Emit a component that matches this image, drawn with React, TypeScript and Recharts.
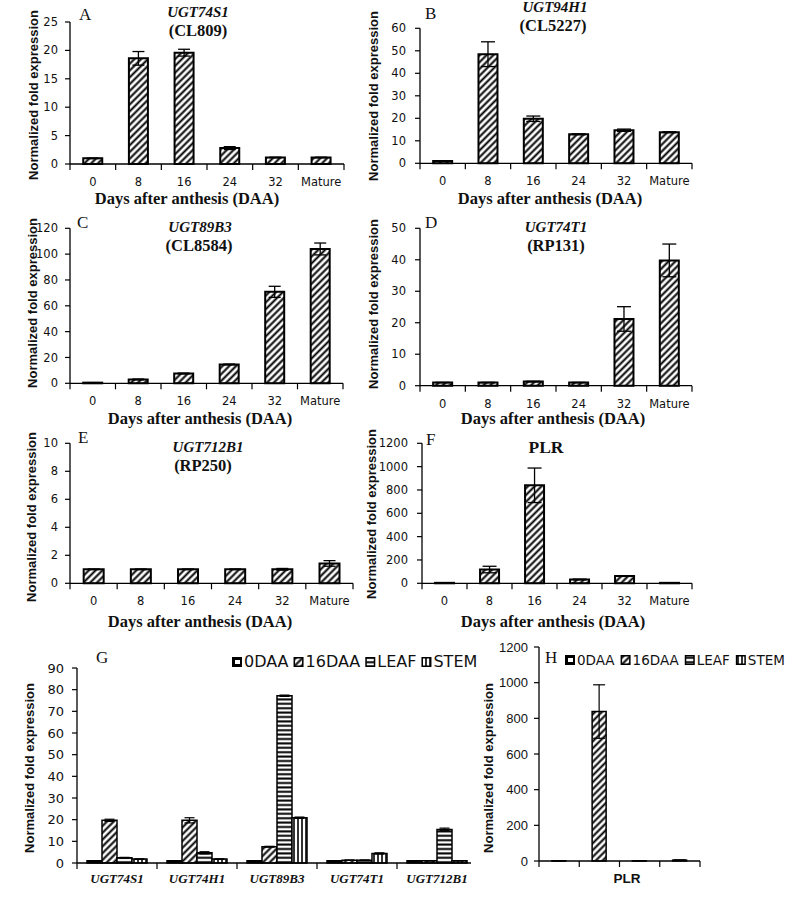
import React from 'react';
import { BarChart, Bar, XAxis, YAxis, ErrorBar, Cell } from 'recharts';

// ---------------- data ----------------
const daaCategories = ['0', '8', '16', '24', '32', 'Mature'];

const ugt74s1Values = [1.0, 18.6, 19.6, 2.8, 1.15, 1.15];
const ugt74s1Errors = [0.05, 1.2, 0.6, 0.25, 0.05, 0.05];
const ugt94h1Values = [1.0, 48.5, 19.8, 12.9, 14.7, 13.8];
const ugt94h1Errors = [0.1, 5.5, 1.2, 0.2, 0.5, 0.2];
const ugt89b3Values = [0.5, 3.0, 7.6, 14.6, 70.8, 104.0];
const ugt89b3Errors = [0.05, 0.3, 0.3, 0.3, 4.3, 4.6];
const ugt74t1Values = [1.0, 1.0, 1.3, 1.0, 21.2, 39.8];
const ugt74t1Errors = [0.05, 0.05, 0.1, 0.05, 3.9, 5.2];
const ugt712b1Values = [1.0, 1.0, 1.0, 1.0, 1.0, 1.42];
const ugt712b1Errors = [0.02, 0.02, 0.02, 0.02, 0.06, 0.2];
const plrValues = [4, 118, 840, 33, 62, 4];
const plrErrors = [1, 28, 148, 3, 3, 1];

const ticksA = [0, 5, 10, 15, 20, 25];
const ticksB = [0, 10, 20, 30, 40, 50, 60];
const ticksC = [0, 20, 40, 60, 80, 100, 120];
const ticksD = [0, 10, 20, 30, 40, 50];
const ticksE = [0, 2, 4, 6, 8, 10];
const ticksF = [0, 200, 400, 600, 800, 1000, 1200];
const ticksG = [0, 10, 20, 30, 40, 50, 60, 70, 80, 90];
const ticksH = [0, 200, 400, 600, 800, 1000, 1200];

const tissueGenes = ['UGT74S1', 'UGT74H1', 'UGT89B3', 'UGT74T1', 'UGT712B1'];
const tissueSeries = ['0DAA', '16DAA', 'LEAF', 'STEM'];
const tissue0DAA = [1, 1, 1, 1, 1];
const tissue16DAA = [19.7, 19.7, 7.5, 1.3, 1.0];
const tissueLeaf = [2.4, 4.7, 77.2, 1.3, 15.5];
const tissueStem = [1.8, 1.8, 20.9, 4.4, 1.0];
const tissue16DAAErr = [0.5, 1.2, 0.2, 0.05, 0.05];
const tissueLeafErr = [0.2, 0.5, 0.3, 0.05, 0.6];
const tissueStemErr = [0.1, 0.1, 0.3, 0.3, 0.05];

const plrTissueValues = [1, 838, 1, 5];
const plrTissueErrors = [0.2, 150, 0.2, 1];

const panelLetters = ['A', 'B', 'C', 'D', 'E', 'F', 'G', 'H'];
const geneNames = ['UGT74S1', 'UGT94H1', 'UGT89B3', 'UGT74T1', 'UGT712B1'];
const cloneIds = ['(CL809)', '(CL5227)', '(CL8584)', '(RP131)', '(RP250)'];
const plrLabel = 'PLR';
const yTitle = 'Normalized fold expression';
const xTitle = 'Days after anthesis (DAA)';

// ---------------- styles ----------------
const SERIF = '"Liberation Serif", "Times New Roman", serif';
const SANS = '"Liberation Sans", Arial, sans-serif';
const DEJAVU = '"DejaVu Sans", Verdana, sans-serif';
const XH = 30;
const patternIds = ['url(#pSolid)', 'url(#pDiag)', 'url(#pHoriz)', 'url(#pVert)'];

type Box = { x: number; y: number; w: number; h: number };
type Plot = { l: number; t: number; r: number; b: number };

function layoutOf(box: Box, plot: Plot) {
  return {
    yw: plot.l - box.x,
    margin: {
      top: plot.t - box.y,
      right: box.x + box.w - plot.r,
      bottom: box.y + box.h - plot.b - XH,
      left: 0,
    },
  };
}

function measure(text: string, font: string, fallbackPerChar: number) {
  try {
    const c = document.createElement('canvas').getContext('2d');
    if (c) {
      c.font = font;
      return c.measureText(text).width;
    }
  } catch (e) {
    /* ignore */
  }
  return text.length * fallbackPerChar;
}

function BoundaryTick(props: any) {
  const { x, y, payload, index, bw, count, showLabel, labelDy, font } = props;
  return (
    <g>
      <line x1={x - bw / 2} y1={y} x2={x - bw / 2} y2={y + 6} stroke="#000" strokeWidth={1.2} />
      {index === count - 1 && (
        <line x1={x + bw / 2} y1={y} x2={x + bw / 2} y2={y + 6} stroke="#000" strokeWidth={1.2} />
      )}
      {showLabel && (
        <text x={x} y={y + labelDy} textAnchor="middle" fill="#111" {...font}>
          {payload.value}
        </text>
      )}
    </g>
  );
}

type TCProps = {
  box: Box;
  plot: Plot;
  values: number[];
  errors: number[];
  ticks: number[];
  tickMargin: number;
  errW: number;
};

function TimeCoursePanel({ box, plot, values, errors, ticks, tickMargin, errW }: TCProps) {
  const { yw, margin } = layoutOf(box, plot);
  const data = daaCategories.map((c, i) => ({ cat: c, v: values[i], e: errors[i] }));
  const bw = (plot.r - plot.l) / daaCategories.length;
  return (
    <div style={{ position: 'absolute', left: box.x, top: box.y }}>
      <BarChart width={box.w} height={box.h} data={data} margin={margin} barCategoryGap="29%">
        <XAxis
          dataKey="cat"
          height={XH}
          interval={0}
          tickSize={0}
          tickMargin={0}
          tickLine={false}
          axisLine={{ stroke: '#000', strokeWidth: 1.3 }}
          tick={(p: any) => (
            <BoundaryTick
              {...p}
              bw={bw}
              count={daaCategories.length}
              showLabel
              labelDy={22}
              font={{ fontFamily: DEJAVU, fontSize: 11.5 }}
            />
          )}
        />
        <YAxis
          type="number"
          width={yw}
          domain={[0, ticks[ticks.length - 1]]}
          ticks={ticks}
          interval={0}
          tickSize={5}
          tickMargin={tickMargin}
          axisLine={{ stroke: '#000', strokeWidth: 1.3 }}
          tickLine={{ stroke: '#000', strokeWidth: 1.2 }}
          tick={{ fill: '#111', fontFamily: DEJAVU, fontSize: 11.5 }}
        />
        <Bar dataKey="v" fill="url(#pDiag)" stroke="#000" strokeWidth={2} isAnimationActive={false}>
          <ErrorBar dataKey="e" width={errW} stroke="#000" strokeWidth={1.3} direction="y" />
        </Bar>
      </BarChart>
    </div>
  );
}

function TissuePanel() {
  const box = { x: 0, y: 640, w: 490, h: 280 };
  const plot = { l: 77, t: 668, r: 477, b: 863 };
  const { yw, margin } = layoutOf(box, plot);
  const data = tissueGenes.map((g, i) => ({
    gene: g,
    s0: tissue0DAA[i],
    s1: tissue16DAA[i],
    s2: tissueLeaf[i],
    s3: tissueStem[i],
    e1: tissue16DAAErr[i],
    e2: tissueLeafErr[i],
    e3: tissueStemErr[i],
  }));
  const bw = (plot.r - plot.l) / tissueGenes.length;
  return (
    <div style={{ position: 'absolute', left: box.x, top: box.y, width: 471, height: box.h, overflow: 'hidden' }}>
      <BarChart width={box.w} height={box.h} data={data} margin={margin} barCategoryGap="12.5%" barGap={0}>
        <XAxis
          dataKey="gene"
          height={XH}
          interval={0}
          tickSize={0}
          tickMargin={0}
          tickLine={false}
          axisLine={{ stroke: '#000', strokeWidth: 1.3 }}
          tick={(p: any) => (
            <BoundaryTick
              {...p}
              bw={bw}
              count={tissueGenes.length}
              showLabel
              labelDy={20}
              font={{ fontFamily: SERIF, fontSize: 13, fontWeight: 700, fontStyle: 'italic' }}
            />
          )}
        />
        <YAxis
          type="number"
          width={yw}
          domain={[0, 90]}
          ticks={ticksG}
          interval={0}
          tickSize={5}
          tickMargin={8}
          axisLine={{ stroke: '#000', strokeWidth: 1.3 }}
          tickLine={{ stroke: '#000', strokeWidth: 1.2 }}
          tick={{ fill: '#111', fontFamily: DEJAVU, fontSize: 13 }}
        />
        <Bar dataKey="s0" fill={patternIds[0]} stroke="#000" strokeWidth={1.5} isAnimationActive={false} />
        <Bar dataKey="s1" fill={patternIds[1]} stroke="#000" strokeWidth={1.5} isAnimationActive={false}>
          <ErrorBar dataKey="e1" width={5} stroke="#000" strokeWidth={1.2} direction="y" />
        </Bar>
        <Bar dataKey="s2" fill={patternIds[2]} stroke="#000" strokeWidth={1.5} isAnimationActive={false}>
          <ErrorBar dataKey="e2" width={5} stroke="#000" strokeWidth={1.2} direction="y" />
        </Bar>
        <Bar dataKey="s3" fill={patternIds[3]} stroke="#000" strokeWidth={1.5} isAnimationActive={false}>
          <ErrorBar dataKey="e3" width={5} stroke="#000" strokeWidth={1.2} direction="y" />
        </Bar>
      </BarChart>
    </div>
  );
}

function PlrTissuePanel() {
  const box = { x: 460, y: 640, w: 340, h: 280 };
  const plot = { l: 539, t: 647, r: 700, b: 861 };
  const { yw, margin } = layoutOf(box, plot);
  const data = tissueSeries.map((s, i) => ({ tissue: s, v: plrTissueValues[i], e: plrTissueErrors[i] }));
  const bw = (plot.r - plot.l) / tissueSeries.length;
  return (
    <div style={{ position: 'absolute', left: box.x, top: box.y }}>
      <BarChart width={box.w} height={box.h} data={data} margin={margin} barCategoryGap="32%">
        <XAxis
          dataKey="tissue"
          height={XH}
          interval={0}
          tickSize={0}
          tickMargin={0}
          tickLine={false}
          axisLine={{ stroke: '#000', strokeWidth: 1.3 }}
          tick={(p: any) => (
            <BoundaryTick {...p} bw={bw} count={tissueSeries.length} showLabel={false} labelDy={0} font={{}} />
          )}
        />
        <YAxis
          type="number"
          width={yw}
          domain={[0, 1200]}
          ticks={ticksH}
          interval={0}
          tickSize={5}
          tickMargin={6}
          axisLine={{ stroke: '#000', strokeWidth: 1.3 }}
          tickLine={{ stroke: '#000', strokeWidth: 1.2 }}
          tick={{ fill: '#111', fontFamily: SANS, fontSize: 13 }}
        />
        <Bar dataKey="v" stroke="#000" strokeWidth={1.5} isAnimationActive={false}>
          {data.map((_, i) => (
            <Cell key={i} fill={patternIds[i]} />
          ))}
          <ErrorBar dataKey="e" width={6} stroke="#000" strokeWidth={1.2} direction="y" />
        </Bar>
      </BarChart>
    </div>
  );
}

function LegendRow({ x, y, fontSize, gap }: { x: number; y: number; fontSize: number; gap: number }) {
  let cx = x;
  const items = tissueSeries.map((name, i) => {
    const sx = cx;
    const w = measure(name, `${fontSize}px "DejaVu Sans"`, fontSize * 0.68);
    cx += 12 + w + gap;
    return (
      <g key={name}>
        {i === 0 ? (
          <g>
            <rect x={sx} y={y - 10} width={10} height={10} fill="#000" />
            <rect x={sx + 3} y={y - 7} width={5} height={4} fill="#fff" />
          </g>
        ) : (
          <rect x={sx + 0.75} y={y - 9.25} width={8.5} height={8.5} fill={patternIds[i]} stroke="#000" strokeWidth={1.5} />
        )}
        <text x={sx + 12} y={y} fontFamily={DEJAVU} fontSize={fontSize} fill="#111">
          {name}
        </text>
      </g>
    );
  });
  return <g>{items}</g>;
}

const tcLayout = [
  { box: { x: 0, y: 0, w: 365, h: 215 }, plot: { l: 70, t: 22, r: 344, b: 164 }, tickMargin: 7, errW: 6 },
  { box: { x: 355, y: 0, w: 445, h: 215 }, plot: { l: 420, t: 28.3, r: 692, b: 163.3 }, tickMargin: 9, errW: 7 },
  { box: { x: 0, y: 205, w: 365, h: 225 }, plot: { l: 70, t: 228.3, r: 343, b: 383.3 }, tickMargin: 7, errW: 6 },
  { box: { x: 355, y: 205, w: 445, h: 225 }, plot: { l: 420, t: 228.3, r: 692, b: 385.7 }, tickMargin: 9, errW: 7 },
  { box: { x: 0, y: 425, w: 365, h: 210 }, plot: { l: 70, t: 443.3, r: 353, b: 583.3 }, tickMargin: 7, errW: 6 },
  { box: { x: 355, y: 425, w: 445, h: 210 }, plot: { l: 422, t: 443.3, r: 692, b: 583.3 }, tickMargin: 9, errW: 7 },
];
const tcValues = [ugt74s1Values, ugt94h1Values, ugt89b3Values, ugt74t1Values, ugt712b1Values, plrValues];
const tcErrors = [ugt74s1Errors, ugt94h1Errors, ugt89b3Errors, ugt74t1Errors, ugt712b1Errors, plrErrors];
const tcTicks = [ticksA, ticksB, ticksC, ticksD, ticksE, ticksF];

// text anchors (page coordinates)
const yTitlePos = [[33, 95], [373, 96], [32, 303], [373, 304], [31, 517], [371, 514], [29, 768], [488, 768]];
const letterPos = [[79, 20], [425, 19], [77, 228], [425, 228], [78, 443], [426, 445], [96, 663], [545, 663]];
const genePos = [[198, 17], [555, 12], [200, 232], [556, 232], [208, 452]];
const clonePos = [[198, 36], [553, 31], [199, 251], [556, 251], [203, 471]];
const xTitlePos = [[187, 204], [550, 204], [200, 424], [553, 424], [200, 627], [553, 627]];

export default function App() {
  return (
    <div style={{ position: 'absolute', left: 0, top: 0, width: 800, height: 920, background: '#fff', overflow: 'hidden' }}>
      <svg width={0} height={0} style={{ position: 'absolute' }}>
        <defs>
          <pattern id="pDiag" patternUnits="userSpaceOnUse" width={4.8} height={4.8} patternTransform="rotate(45)">
            <rect width={4.8} height={4.8} fill="#fff" />
            <line x1={2.4} y1={0} x2={2.4} y2={4.8} stroke="#000" strokeWidth={2} />
          </pattern>
          <pattern id="pHoriz" patternUnits="userSpaceOnUse" width={4.4} height={4.4}>
            <rect width={4.4} height={4.4} fill="#fff" />
            <line x1={0} y1={2.2} x2={4.4} y2={2.2} stroke="#000" strokeWidth={2} />
          </pattern>
          <pattern id="pVert" patternUnits="userSpaceOnUse" width={4} height={4}>
            <rect width={4} height={4} fill="#fff" />
            <line x1={2} y1={0} x2={2} y2={4} stroke="#000" strokeWidth={1.6} />
          </pattern>
          <pattern id="pSolid" patternUnits="userSpaceOnUse" width={4} height={4}>
            <rect width={4} height={4} fill="#000" />
          </pattern>
        </defs>
      </svg>

      {tcLayout.map((L, i) => (
        <TimeCoursePanel
          key={i}
          box={L.box}
          plot={L.plot}
          values={tcValues[i]}
          errors={tcErrors[i]}
          ticks={tcTicks[i]}
          tickMargin={L.tickMargin}
          errW={L.errW}
        />
      ))}
      <TissuePanel />
      <PlrTissuePanel />

      <svg width={800} height={920} style={{ position: 'absolute', left: 0, top: 0, pointerEvents: 'none' }}>
        {yTitlePos.map(([x, y], i) => (
          <text
            key={'yt' + i}
            x={x}
            y={y}
            transform={`rotate(-90 ${x} ${y})`}
            textAnchor="middle"
            dominantBaseline="central"
            fontFamily={SANS}
            fontWeight={700}
            fontSize={13}
            fill="#111"
          >
            {yTitle}
          </text>
        ))}
        {letterPos.map(([x, y], i) => (
          <text key={'lt' + i} x={x} y={y} fontFamily={SERIF} fontSize={17} fill="#111">
            {panelLetters[i]}
          </text>
        ))}
        {genePos.map(([x, y], i) => (
          <text
            key={'gn' + i}
            x={x}
            y={y}
            textAnchor="middle"
            fontFamily={SERIF}
            fontStyle="italic"
            fontWeight={700}
            fontSize={15}
            fill="#111"
          >
            {geneNames[i]}
          </text>
        ))}
        {clonePos.map(([x, y], i) => (
          <text key={'cl' + i} x={x} y={y} textAnchor="middle" fontFamily={SERIF} fontWeight={700} fontSize={16.5} fill="#111">
            {cloneIds[i]}
          </text>
        ))}
        <text x={546} y={453} textAnchor="middle" fontFamily={SERIF} fontWeight={700} fontSize={17.5} fill="#111">
          {plrLabel}
        </text>
        {xTitlePos.map(([x, y], i) => (
          <text key={'xt' + i} x={x} y={y} textAnchor="middle" fontFamily={SERIF} fontWeight={700} fontSize={16.5} fill="#111">
            {xTitle}
          </text>
        ))}
        <text x={627} y={883} textAnchor="middle" fontFamily={SANS} fontWeight={700} fontSize={13.5} fill="#111">
          {plrLabel}
        </text>
        <LegendRow x={232} y={667} fontSize={16} gap={5} />
        <LegendRow x={565} y={665} fontSize={13.5} gap={6} />
      </svg>
    </div>
  );
}
